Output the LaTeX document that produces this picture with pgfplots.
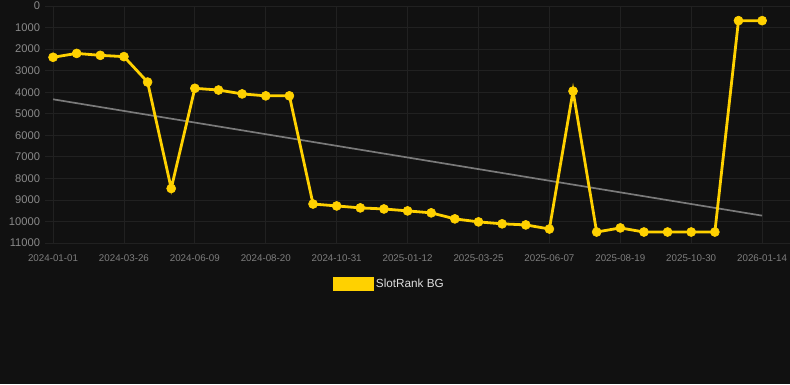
\documentclass[border=0pt]{standalone}
\usepackage{pgfplots}
\pgfplotsset{compat=1.18}
\usepackage{fontspec}
\setmainfont{Liberation Sans}
\definecolor{bg}{HTML}{111111}
\definecolor{gridc}{HTML}{212121}
\definecolor{tickc}{HTML}{8A8A8A}
\definecolor{xtickc}{HTML}{7E7E7E}
\definecolor{ylw}{HTML}{FFD100}
\definecolor{trend}{HTML}{7A7A7A}
\definecolor{legtext}{HTML}{DDDDDD}
\begin{document}
\begin{tikzpicture}[x=1bp,y=1bp]
\fill[bg] (0,0) rectangle (790,384);
\begin{axis}[
  at={(45bp,141bp)}, anchor=south west,
  scale only axis, width=745bp, height=237bp,
  xmin=-0.34, xmax=31.18,
  ymin=0, ymax=11000, y dir=reverse,
  xtick={0,3,...,30},
  xticklabels={2024-01-01,2024-03-26,2024-06-09,2024-08-20,2024-10-31,2025-01-12,2025-03-25,2025-06-07,2025-08-19,2025-10-30,2026-01-14},
  ytick={0,1000,...,11000},
  scaled y ticks=false,
  /pgf/number format/1000 sep={},
  /pgf/number format/assume math mode=true,
  grid=major,
  grid style={gridc, line width=0.8bp},
  axis line style={draw=none},
  major tick length=0pt,
  tick style={draw=none},
  yticklabel style={font=\fontsize{11.2}{13}\selectfont, text=tickc, xshift=-1.5bp},
  xticklabel style={font=\fontsize{9.8}{12}\selectfont, text=xtickc, yshift=-8bp},
  clip=false,
  legend style={at={(0.4624,-0.173)}, anchor=center, draw=none, fill=none,
    font=\fontsize{11.8}{14}\selectfont, text=legtext,
    /tikz/every even column/.append style={column sep=8bp}},
]
\addplot[trend, line width=1.7bp, forget plot] coordinates {(0,4330) (30,9730)};
\addplot[ylw, line width=2.8bp, mark=*, mark size=4.5bp, mark options={solid, fill=ylw, draw=ylw, line width=0.6bp},
  legend image code/.code={\fill[ylw] (0bp,-6bp) rectangle (38bp,6bp);}]
  coordinates {
  (0,2380) (1,2200) (2,2290) (3,2350) (4,3530) (5,8470) (6,3820) (7,3900)
  (8,4080) (9,4170) (10,4170) (11,9190) (12,9280) (13,9370) (14,9420)
  (15,9510) (16,9600) (17,9880) (18,10020) (19,10110) (20,10160) (21,10350)
  (22,3950) (23,10490) (24,10300) (25,10490) (26,10490) (27,10490) (28,10490)
  (29,680) (30,680)
  };
\addlegendentry{SlotRank BG}
\end{axis}
\pgfresetboundingbox
\useasboundingbox (0,0) rectangle (790,384);
\end{tikzpicture}
\end{document}
